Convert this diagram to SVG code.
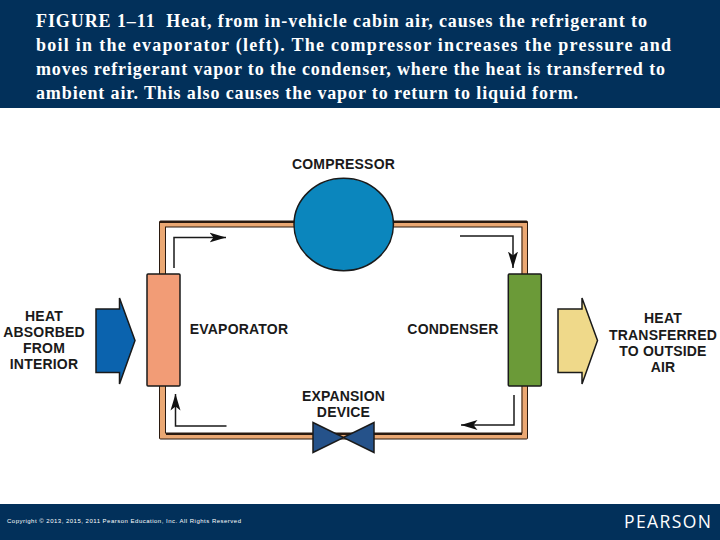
<svg xmlns="http://www.w3.org/2000/svg" width="720" height="540" viewBox="0 0 720 540">
<defs>
<marker id="ah" markerWidth="17" markerHeight="11" refX="16.500" refY="5.500" orient="auto" markerUnits="userSpaceOnUse"><path d="M0 0.500 L16.500 5.500 L0 10.500 L4 5.500 Z" fill="#111"/></marker>
</defs>
<style>
.cap{font-family:"Liberation Serif",serif;font-size:18px;font-weight:700;fill:#fff;white-space:pre}
.lb{font-family:"Liberation Sans",Arial,sans-serif;font-size:14px;font-weight:700;fill:#1a1a1a;text-anchor:middle;letter-spacing:.2px}
.edge{fill:none;stroke:#2a1a10;stroke-width:1}
.thick{fill:none;stroke:#2a1a10;stroke-width:2}
.pipei{fill:none;stroke:#eba873;stroke-width:6}
.flow{fill:none;stroke:#1a1a1a;stroke-width:1.500;marker-end:url(#ah)}
.nd{stroke:#1a1a1a;stroke-width:1.500}
</style>
<rect width="720" height="540" fill="#fff"/>
<rect id="header" width="720" height="108" fill="#02305a"/>
<text class="cap" x="36" y="27" textLength="611" lengthAdjust="spacing" xml:space="preserve">FIGURE 1–11  Heat, from in-vehicle cabin air, causes the refrigerant to</text>
<text class="cap" x="36" y="51" textLength="635" lengthAdjust="spacing">boil in the evaporator (left). The compressor increases the pressure and</text>
<text class="cap" x="36" y="75" textLength="629" lengthAdjust="spacing">moves refrigerant vapor to the condenser, where the heat is transferred to</text>
<text class="cap" x="36" y="99" textLength="542" lengthAdjust="spacing">ambient air. This also causes the vapor to return to liquid form.</text>
<g id="connectors">
<rect x="162.500" y="224" width="362" height="212" class="pipei"/>
<rect x="159.500" y="221" width="368" height="218" rx="1" class="edge"/>
<rect x="165.500" y="227" width="356.500" height="206" class="edge"/>
<path class="thick" d="M160 222H527M166 434H522"/>
<path class="flow" d="M174 268V237.500H226"/>
<path class="flow" d="M460 236H513V268"/>
<path class="flow" d="M226.500 426H175.500V394"/>
<path class="flow" d="M514 395V425H461"/>
</g>
<g id="compressor"><ellipse cx="343.700" cy="224.500" rx="49.700" ry="46.200" fill="#0b86bd" class="nd"/><text class="lb" x="343.500" y="169">COMPRESSOR</text></g>
<g id="evaporator"><rect x="147" y="274" width="33" height="112" rx="1" fill="#f29c76" class="nd"/><text class="lb" x="239" y="334">EVAPORATOR</text></g>
<g id="condenser"><rect x="508.300" y="274" width="33" height="112" rx="1" fill="#6b9a38" class="nd"/><text class="lb" x="453" y="334">CONDENSER</text></g>
<g id="expansion-device"><path d="M313 422.500L343.500 437.500L374 422.500V452.500L343.500 437.500L313 452.500Z" fill="#25528a" class="nd"/><text class="lb" x="343.500" y="401">EXPANSION</text><text class="lb" x="343.500" y="417">DEVICE</text></g>
<g id="heat-in"><path d="M96 309H119.500V298L135 340.500L119.500 384V372.500H96Z" fill="#0b63ae" class="nd"/><text class="lb" x="44" y="321">HEAT</text><text class="lb" x="44" y="337">ABSORBED</text><text class="lb" x="44" y="353">FROM</text><text class="lb" x="44" y="369">INTERIOR</text></g>
<g id="heat-out"><path d="M558 309H582V298L597.500 340.500L582 384V372.500H558Z" fill="#efd98a" class="nd"/><text class="lb" x="663" y="323">HEAT</text><text class="lb" x="663" y="340">TRANSFERRED</text><text class="lb" x="663" y="356">TO OUTSIDE</text><text class="lb" x="663" y="372">AIR</text></g>
<rect id="footer" y="504" width="720" height="36" fill="#02305a"/>
<text x="7" y="523" font-family="'Liberation Sans',sans-serif" font-size="6" fill="#fff" textLength="234" lengthAdjust="spacing">Copyright © 2013, 2015, 2011 Pearson Education, Inc. All Rights Reserved</text>
<text x="624" y="528" font-family="'Open Sans',sans-serif" font-size="17.500" fill="#fff" textLength="87" lengthAdjust="spacing">PEARSON</text>
</svg>
